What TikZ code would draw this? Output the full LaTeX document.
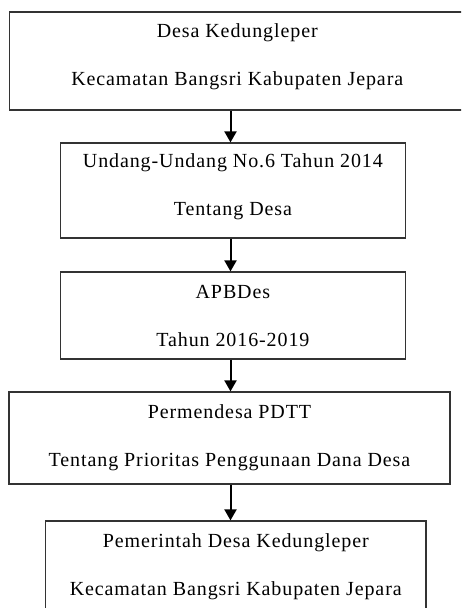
\documentclass[tikz,border=0pt]{standalone}
\usepackage{fontspec}
\setmainfont{Liberation Serif}[LetterSpace=4.5]
\usetikzlibrary{arrows.meta}

% extra depth below the last line of a box
\newcommand{\ganjal}[1]{\rule[-#1]{0pt}{#1}}

\begin{document}
\begin{tikzpicture}[
	x=1pt,y=-1pt,
	font=\fontsize{20}{48}\selectfont,
	kotak/.style={
	draw=black!80,line width=1.2pt,align=center,inner sep=0pt,
	},
	panah/.style={
	draw=black,line width=2pt,-{Triangle[width=12pt,length=11pt]},
	}
	]
\clip (0,0) rectangle (461,608);

\coordinate (sumbu) at (230.5,0);

\node[kotak, minimum width=455.5, minimum height=98] (desa) at (237.25,61) {Desa Kedungleper\\Kecamatan Bangsri Kabupaten Jepara\ganjal{13pt}};
\node[kotak, minimum width=345, minimum height=95] (uu) at (232.9,190.5) {Undang-Undang No.6 Tahun 2014\\Tentang Desa\ganjal{11pt}};
\node[kotak, minimum width=345, minimum height=87] (apbdes) at (232.9,315.5) {APBDes\\Tahun 2016-2019};
\node[kotak, minimum width=441, minimum height=92] (permendesa) at (229.5,438) {Permendesa PDTT\\Tentang Prioritas Penggunaan Dana Desa};
\node[kotak, minimum width=380.5, minimum height=92] (pemdes) at (235.75,567) {Pemerintah Desa Kedungleper\\Kecamatan Bangsri Kabupaten Jepara};

\draw [panah] (desa.south -| sumbu) to (uu.north -| sumbu);
\draw [panah] (uu.south -| sumbu) to (apbdes.north -| sumbu);
\draw [panah] (apbdes.south -| sumbu) to (permendesa.north -| sumbu);
\draw [panah] (permendesa.south -| sumbu) to (pemdes.north -| sumbu);

\end{tikzpicture}
\end{document}
